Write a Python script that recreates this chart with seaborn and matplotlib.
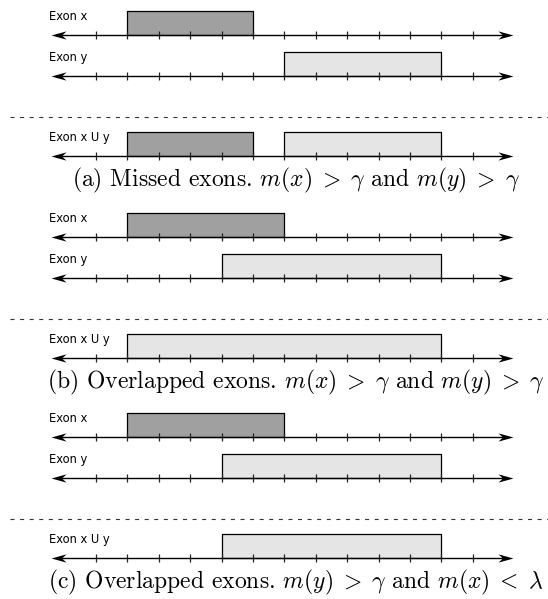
import matplotlib
matplotlib.use('Agg')
import matplotlib.pyplot as plt
import numpy as np
import seaborn as sns
from matplotlib.path import Path

# exon coordinates (in tick units) for the three cases
panel_labels = ['a', 'b', 'c']
captions = [r'Missed exons. $m(x)\;>\;\gamma$ and $m(y)\;>\;\gamma$',
            r'Overlapped exons. $m(x)\;>\;\gamma$ and $m(y)\;>\;\gamma$',
            r'Overlapped exons. $m(y)\;>\;\gamma$ and $m(x)\;<\;\lambda$']
exon_x = [(1, 5), (1, 6), (1, 6)]
exon_y = [(6, 11), (4, 11), (4, 11)]
union_segments = [[(1, 5, 'dark'), (6, 11, 'light')],
                  [(1, 11, 'light')],
                  [(4, 11, 'light')]]
tick_positions = np.arange(0, 13)
row_labels = ['Exon x', 'Exon y', 'Exon x U y']

sns.set_theme(style='white')
plt.rcParams['mathtext.fontset'] = 'cm'
plt.rcParams['lines.scale_dashes'] = False
plt.rcParams['axes.formatter.use_mathtext'] = True

colors = {'dark': '#a0a0a0', 'light': '#e5e5e5'}

W, H = 548, 599
fig = plt.figure(figsize=(W / 100, H / 100), dpi=100)
ax = fig.add_axes([0, 0, 1, 1])

# pixel layout: tick 0 at x=96px, one unit = 31.4px
x0, unit = 96.0, 31.4
def px(p):
    return (p - x0) / unit

ax.set_xlim(px(0), px(W))
ax.set_ylim(H, 0)
ax.axis('off')

right_head = Path([(0, 0), (-2, 0.55), (-1.4, 0), (-2, -0.55), (0, 0)],
                  [Path.MOVETO, Path.LINETO, Path.LINETO, Path.LINETO, Path.CLOSEPOLY])
left_head = Path([(0, 0), (2, 0.55), (1.4, 0), (2, -0.55), (0, 0)],
                 [Path.MOVETO, Path.LINETO, Path.LINETO, Path.LINETO, Path.CLOSEPOLY])

left_tip, right_tip = px(50.7), px(513)
box_h = 23.3


def number_line(y, label):
    ax.plot([left_tip + 0.3, right_tip - 0.3], [y, y], color='black', lw=1.0, zorder=3)
    ax.plot(tick_positions, np.full(len(tick_positions), y), ls='none', marker='|',
            ms=5.2, mew=0.9, color='#222222', zorder=4)
    ax.plot([right_tip], [y], ls='none', marker=right_head, ms=21.6, color='black',
            mew=0, zorder=5)
    ax.plot([left_tip], [y], ls='none', marker=left_head, ms=21.6, color='black',
            mew=0, zorder=5)
    ax.text(px(49), y - 18, label, fontsize=8.3, va='center', ha='left',
            family='DejaVu Sans', color='black')


def exon_box(start, end, y, kind):
    ax.broken_barh([(start, end - start)], (y - box_h, box_h),
                   facecolor=colors[kind], edgecolor='black', lw=0.9, zorder=2)


panel_offsets = [0, 202, 402]
for i, off in enumerate(panel_offsets):
    y1, y2, yd, yu, yc = off + 34.5, off + 75.5, off + 116.5, off + 155.5, off + 180
    exon_box(*exon_x[i], y1, 'dark')
    exon_box(*exon_y[i], y2, 'light')
    for s, e, k in union_segments[i]:
        exon_box(s, e, yu, k)
    number_line(y1, row_labels[0])
    number_line(y2, row_labels[1])
    number_line(yu, row_labels[2])
    ax.plot([px(10), px(W)], [yd, yd], color='#333333', lw=0.8, ls=(0, (2.9, 4.0)))
    ax.text(px(296), yc, '(%s) %s' % (panel_labels[i], captions[i]), fontsize=17,
            ha='center', va='center', family='cmr10', color='black')

fig.savefig('out.png', dpi=100)
